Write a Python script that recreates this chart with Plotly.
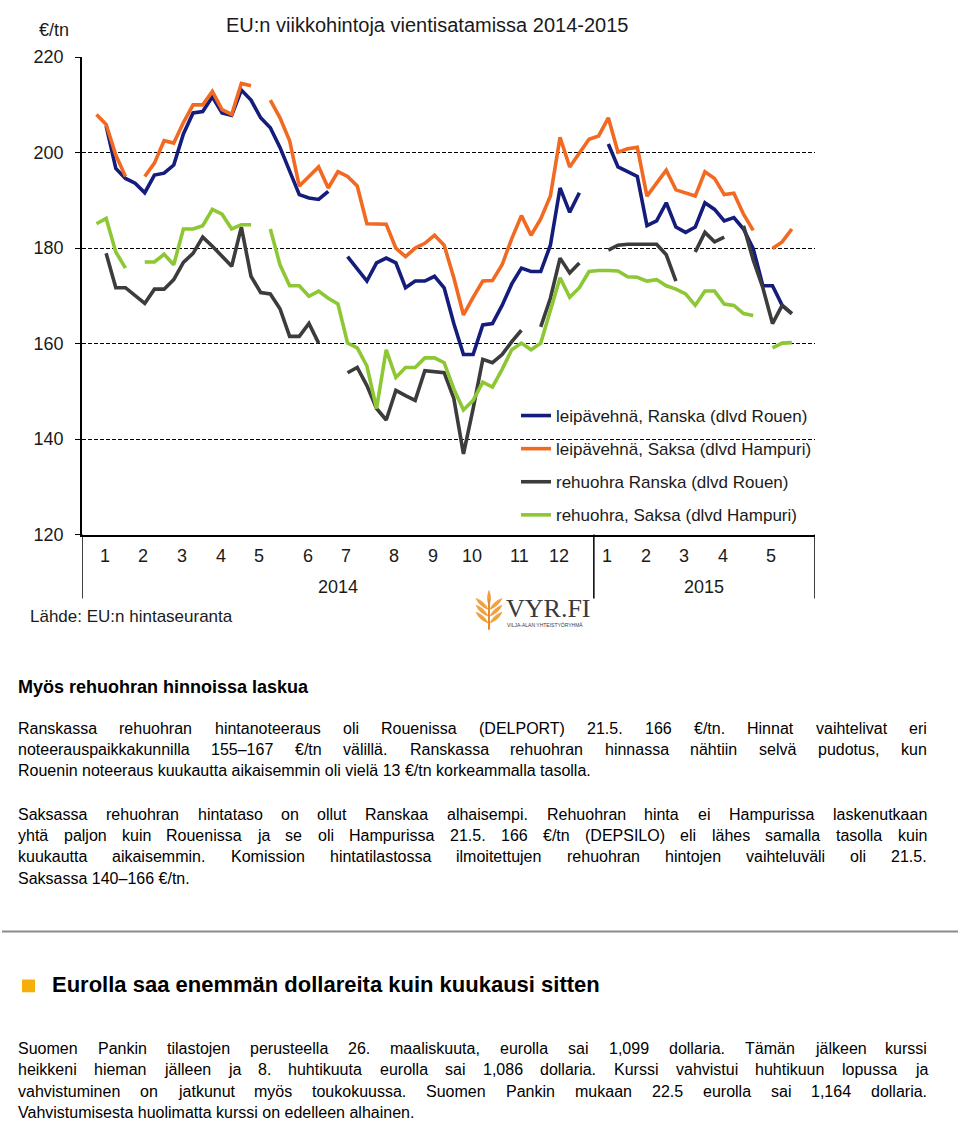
import plotly.graph_objects as go

W, H = 960, 1129

# ---------------- data ----------------
weeks_per_month = [4, 4, 4, 4, 5, 4, 5, 4, 4, 5, 4, 5, 4, 4, 4, 5, 4]
month_labels = ["1", "2", "3", "4", "5", "6", "7", "8", "9", "10", "11", "12",
                "1", "2", "3", "4", "5"]
years = ["2014", "2015"]
months_in_year = [12, 5]

leipa_ranska = [None, 205.6, 196.7, 194.6, 193.6, 191.6, 195.3, 195.7, 197.4, 203.9,
                208.3, 208.6, 211.7, 208.3, 207.8, 213.1, 211.0, 207.3, 205.2, 201.1,
                196.3, 191.2, 190.5, 190.2, 191.9, None, 178.2, 175.5, 173.1, 176.9,
                177.9, 176.9, 171.7, 173.1, 173.1, 174.1, 171.7, 164.2, 157.7, 157.7,
                163.9, 164.2, 168.0, 172.5, 175.8, 175.1, 175.1, 180.6, 192.6, 187.5,
                191.6, None, None, 201.8, 197.0, 196.0, 195.0, 184.7, 185.7, 189.5,
                184.4, 183.3, 184.4, 189.5, 188.1, 185.7, 186.4, 184.0, 179.9, 172.1,
                172.1, 168.0, 166.3]
leipa_saksa = [208.0, 205.9, 199.5, 195.0, None, 195.0, 197.8, 202.5, 202.0, 206.3,
               210.0, 210.0, 212.8, 209.0, 208.0, 214.5, 214.0, None, 211.0, 207.3,
               202.5, 193.0, 195.0, 197.0, 192.6, 196.0, 195.0, 193.0, 185.1, 185.0,
               185.0, 180.0, 178.2, 180.0, 181.0, 182.7, 180.6, 173.8, 166.0, 169.7,
               173.1, 173.2, 176.5, 182.0, 186.8, 182.7, 186.1, 190.9, 203.2, 197.0,
               199.8, 202.8, 203.5, 207.3, 200.1, 200.8, 201.1, 190.9, 193.6, 196.3,
               192.2, 191.5, 190.9, 196.0, 194.6, 191.2, 191.5, 187.1, 183.7, None,
               179.9, 181.3, 184.0]
rehu_ranska = [None, 178.9, 171.7, 171.7, 170.0, 168.4, 171.4, 171.4, 173.4, 177.0,
               178.9, 182.3, 180.4, 178.4, 176.2, 184.4, 174.1, 170.7, 170.4, 167.3,
               161.5, 161.5, 164.2, 160.1, None, None, 153.9, 155.0, 151.2, 146.4,
               144.0, 150.2, 149.1, 148.1, 154.3, 154.1, 153.9, 148.5, 136.9, 146.4,
               156.7, 156.0, 157.7, 160.4, 162.8, None, 163.5, 169.5, 177.9, 174.8,
               176.9, None, None, 179.6, 180.6, 180.8, 180.8, 180.8, 180.8, 178.6,
               173.1, None, 179.2, 183.3, 181.3, 182.3, None, 184.7, 177.5, 171.7,
               164.2, 168.0, 166.3]
rehu_saksa = [185.1, 186.2, 179.2, 175.8, None, 177.1, 177.1, 178.7, 176.5, 184.0,
              184.0, 184.7, 188.1, 187.1, 184.0, 184.9, 184.9, None, 184.0, 176.5,
              172.1, 172.1, 169.9, 171.0, 169.5, 168.3, 160.1, 159.1, 155.3, 146.4,
              158.7, 152.9, 155.0, 155.0, 157.0, 157.0, 156.0, 150.5, 146.1, 148.1,
              151.9, 150.9, 154.6, 158.7, 160.1, 158.7, 160.1, 167.0, 173.8, 169.7,
              171.7, 175.1, 175.3, 175.3, 175.2, 174.0, 173.9, 173.1, 173.4, 172.1,
              171.4, 170.4, 168.0, 171.0, 171.0, 168.3, 168.0, 166.3, 165.9, None,
              159.1, 160.1, 160.2]

series_names = ["leipävehnä, Ranska (dlvd Rouen)", "leipävehnä, Saksa (dlvd Hampuri)",
                "rehuohra Ranska (dlvd Rouen)", "rehuohra, Saksa (dlvd Hampuri)"]
series_values = [leipa_ranska, leipa_saksa, rehu_ranska, rehu_saksa]
series_colors = ["#141C7C", "#F26A21", "#3C3C3C", "#8DC733"]

y_ticks = [120, 140, 160, 180, 200, 220]

title = "EU:n viikkohintoja vientisatamissa 2014-2015"
unit = "€/tn"
source = "Lähde: EU:n hintaseuranta"

heading1 = "Myös rehuohran hinnoissa laskua"
para1 = ["Ranskassa rehuohran hintanoteeraus oli Rouenissa (DELPORT) 21.5. 166 €/tn. Hinnat vaihtelivat eri",
         "noteerauspaikkakunnilla 155–167 €/tn välillä. Ranskassa rehuohran hinnassa nähtiin selvä pudotus, kun",
         "Rouenin noteeraus kuukautta aikaisemmin oli vielä 13 €/tn korkeammalla tasolla."]
para2 = ["Saksassa rehuohran hintataso on ollut Ranskaa alhaisempi. Rehuohran hinta ei Hampurissa laskenutkaan",
         "yhtä paljon kuin Rouenissa ja se oli Hampurissa 21.5. 166 €/tn (DEPSILO) eli lähes samalla tasolla kuin",
         "kuukautta aikaisemmin. Komission hintatilastossa ilmoitettujen rehuohran hintojen vaihteluväli oli 21.5.",
         "Saksassa 140–166 €/tn."]
heading2 = "Eurolla saa enemmän dollareita kuin kuukausi sitten"
para3 = ["Suomen Pankin tilastojen perusteella 26. maaliskuuta, eurolla sai 1,099 dollaria. Tämän jälkeen kurssi",
         "heikkeni hieman jälleen ja 8. huhtikuuta eurolla sai 1,086 dollaria. Kurssi vahvistui huhtikuun lopussa ja",
         "vahvistuminen on jatkunut myös toukokuussa. Suomen Pankin mukaan 22.5 eurolla sai 1,164 dollaria.",
         "Vahvistumisesta huolimatta kurssi on edelleen alhainen."]

# ---------------- helpers ----------------
FONT = "Liberation Sans, Arial, Helvetica, sans-serif"


def fx(px):
    return px / W


def fy(py):
    return 1 - py / H


HELV = {}
for ch, w in zip("abcdefghijklmnopqrstuvwxyz",
                 [556, 556, 500, 556, 556, 278, 556, 556, 222, 222, 500, 222, 833,
                  556, 556, 556, 556, 333, 500, 278, 556, 500, 722, 500, 500, 500]):
    HELV[ch] = w
for ch, w in zip("ABCDEFGHIJKLMNOPQRSTUVWXYZ",
                 [667, 667, 722, 722, 667, 611, 778, 722, 278, 500, 667, 556, 833,
                  722, 778, 667, 778, 722, 667, 611, 722, 667, 944, 667, 667, 611]):
    HELV[ch] = w
for ch in "0123456789":
    HELV[ch] = 556
HELV.update({' ': 278, '.': 278, ',': 278, '(': 333, ')': 333, '–': 556, '€': 556,
             '/': 278, ':': 278, 'ä': 556, 'ö': 556, 'Ä': 667, 'Ö': 778, '-': 333})


def twidth(s, size):
    return sum(HELV.get(c, 556) for c in s) * size / 1000.0


annotations = []


def add_text(text, x, y, size, anchor="left", bold=False, color="#000000", family=FONT):
    t = f"<b>{text}</b>" if bold else text
    annotations.append(dict(text=t, x=fx(x), y=fy(y), xref="paper", yref="paper",
                            xanchor=anchor, yanchor="middle", showarrow=False,
                            borderpad=0, borderwidth=0,
                            font=dict(size=size, color=color, family=family)))


BODY_SIZE = 16
LEFT, RIGHT = 18, 927


def add_paragraph(lines, y0, dy=21.8):
    for k, line in enumerate(lines):
        y = y0 + k * dy
        if k == len(lines) - 1:
            add_text(line, LEFT, y, BODY_SIZE)
            continue
        words = line.split(" ")
        widths = [twidth(w_, BODY_SIZE) for w_ in words]
        gap = (RIGHT - LEFT - sum(widths)) / (len(words) - 1)
        x = LEFT
        for w_, wd in zip(words, widths):
            add_text(w_, x, y, BODY_SIZE)
            x += wd + gap


# ---------------- figure ----------------
n_weeks = len(leipa_ranska)
weeks = list(range(n_weeks))
x_range = [-1.5, n_weeks + 1.4]

fig = go.Figure()
for name, vals, col in zip(series_names, series_values, series_colors):
    fig.add_trace(go.Scatter(x=weeks, y=vals, mode="lines", name=name,
                             line=dict(color=col, width=3.6), connectgaps=False,
                             legendgroup=name))

PL, PR, PT, PB = 82, 815, 48, 534

fig.update_layout(
    width=W, height=H, margin=dict(l=0, r=0, t=0, b=0),
    paper_bgcolor="white", plot_bgcolor="white",
    font=dict(family=FONT, color="#1a1a1a"),
    showlegend=True,
    legend=dict(x=fx(516), y=fy(395), xanchor="left", yanchor="top",
                font=dict(size=17, color="#1a1a1a", family=FONT),
                bgcolor="rgba(0,0,0,0)", tracegroupgap=8, itemwidth=30),
    xaxis=dict(domain=[fx(PL), fx(PR)], range=x_range, showgrid=False, zeroline=False,
               showticklabels=False, ticks="", showline=True, linecolor="black",
               linewidth=1.5),
    yaxis=dict(domain=[fy(PB), fy(PT)], range=[120, 220], tickvals=y_ticks,
               showgrid=True, gridcolor="black", gridwidth=1, griddash="4px,2px",
               zeroline=False, showline=True, linecolor="black", linewidth=1.5,
               ticks="outside", ticklen=5, tickcolor="black",
               tickfont=dict(size=18, color="#1a1a1a", family=FONT),
               ticklabelstandoff=8),
)

# month and year labels from the week counts
starts = []
acc = 0
for wpm in weeks_per_month:
    starts.append(acc)
    acc += wpm
for lab, s in zip(month_labels, starts):
    annotations.append(dict(text=lab, x=s + 0.85, y=fy(556), xref="x", yref="paper",
                            showarrow=False, xanchor="center", yanchor="middle",
                            font=dict(size=18, color="#1a1a1a", family=FONT)))

shapes = []
edges = [x_range[0]]
m = 0
for cnt in months_in_year:
    m += cnt
    edges.append(starts[m] - 0.5 if m < len(starts) else x_range[1])
for k, yr in enumerate(years):
    annotations.append(dict(text=yr, x=(edges[k] + edges[k + 1]) / 2, y=fy(587),
                            xref="x", yref="paper", showarrow=False,
                            font=dict(size=18, color="#1a1a1a", family=FONT)))
for e in edges:
    shapes.append(dict(type="line", xref="x", yref="paper", x0=e, x1=e,
                       y0=fy(PB), y1=fy(599), line=dict(color="black", width=1.5)))

# chart texts
add_text(title, 427, 15, 20, anchor="center", color="#1a1a1a")
add_text(unit, 39, 20, 18, color="#1a1a1a")
add_text(source, 30, 617, 17, color="#1a1a1a")


# logo (wheat + wordmark)
def leaf(bx, by, tx, ty, wdt):
    mx, my = (bx + tx) / 2, (by + ty) / 2
    dx, dy = tx - bx, ty - by
    ln = (dx * dx + dy * dy) ** 0.5
    nx, ny = -dy / ln * wdt, dx / ln * wdt
    p = (f"M {fx(bx)},{fy(by)} Q {fx(mx + nx)},{fy(my + ny)} {fx(tx)},{fy(ty)} "
         f"Q {fx(mx - nx)},{fy(my - ny)} {fx(bx)},{fy(by)} Z")
    return dict(type="path", xref="paper", yref="paper", path=p,
                fillcolor="#F2A23A", line=dict(color="#E8892A", width=0.5))


cx = 489
shapes.append(leaf(cx, 606, cx, 591, 3.2))
for yy in [610, 617, 624]:
    shapes.append(leaf(cx - 1, yy, cx - 13, yy - 11, 3.5))
    shapes.append(leaf(cx + 1, yy, cx + 13, yy - 11, 3.5))
shapes.append(dict(type="line", xref="paper", yref="paper", x0=fx(cx), x1=fx(cx),
                   y0=fy(600), y1=fy(631), line=dict(color="#E8892A", width=2)))
add_text("VYR.FI", 506, 609, 26, color="#3a3a3a",
         family="Liberation Serif, Times New Roman, serif")
add_text("VILJA-ALAN YHTEISTYÖRYHMÄ", 507, 626, 5, color="#3a3a3a")

# article text
add_text(heading1, LEFT, 689, 18, bold=True)
add_paragraph(para1, 731)
add_paragraph(para2, 818.5)
shapes.append(dict(type="line", xref="paper", yref="paper", x0=fx(2), x1=fx(958),
                   y0=fy(938), y1=fy(938), line=dict(color="#8c8c8c", width=2)))
shapes.append(dict(type="rect", xref="paper", yref="paper", x0=fx(22), x1=fx(35),
                   y0=fy(1000), y1=fy(987), fillcolor="#F5AE0A", line=dict(width=0)))
add_text(heading2, 52, 992, 22, bold=True)
add_paragraph(para3, 1057)

fig.update_layout(annotations=annotations, shapes=shapes)

fig.write_html("out.html", include_plotlyjs=True,
               config={"displayModeBar": False},
               post_script="document.body.style.margin='0';document.body.style.overflow='hidden';")
